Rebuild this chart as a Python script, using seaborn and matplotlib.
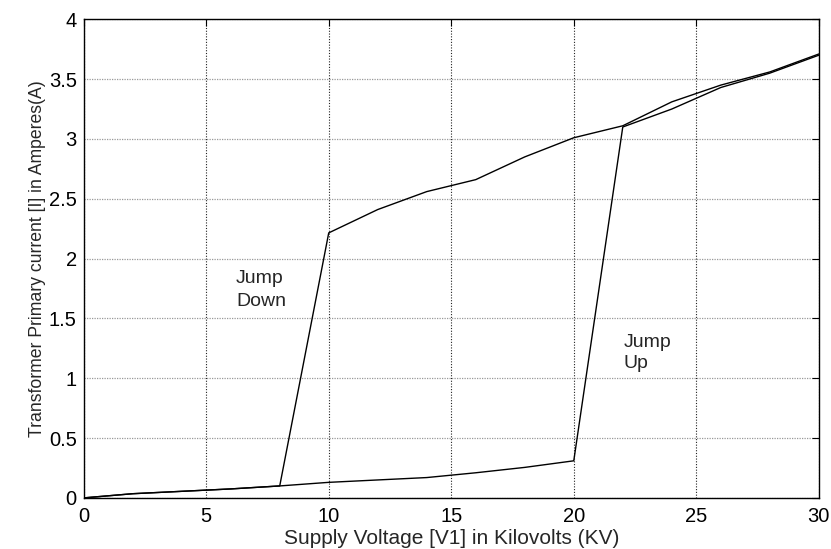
import numpy as np
import pandas as pd
import matplotlib
matplotlib.use("Agg")
import matplotlib.pyplot as plt
import seaborn as sns

# Increasing voltage (jump up)
up_v = [0, 2, 4, 6, 8, 10, 12, 14, 16, 18, 20, 22, 24, 26, 28, 30]
up_i = [0.0, 0.035, 0.055, 0.075, 0.10, 0.13, 0.15, 0.17, 0.21, 0.255, 0.31, 3.10, 3.25, 3.43, 3.55, 3.70]
# Decreasing voltage (jump down)
down_v = [30, 28, 26, 24, 22, 20, 18, 16, 14, 12, 10, 8, 6, 4, 2, 0]
down_i = [3.71, 3.56, 3.45, 3.31, 3.11, 3.01, 2.85, 2.66, 2.56, 2.41, 2.215, 0.10, 0.075, 0.055, 0.035, 0.0]

x_ticks = [0, 5, 10, 15, 20, 25, 30]
y_ticks = [0, 0.5, 1, 1.5, 2, 2.5, 3, 3.5, 4]
y_tick_labels = ["0", "0.5", "1", "1.5", "2", "2.5", "3", "3.5", "4"]

sns.set_style("white")
plt.rcParams['font.family'] = ['Liberation Sans', 'DejaVu Sans']

W, H = 831, 549
fig = plt.figure(figsize=(W / 100, H / 100), dpi=100)
left, right, top, bottom = 83.7, 818.8, 19.3, 497.9
ax = fig.add_axes([left / W, 1 - bottom / H, (right - left) / W, (bottom - top) / H])

up_df = pd.DataFrame({"V": up_v, "I": up_i})
down_df = pd.DataFrame({"V": down_v, "I": down_i})
sns.lineplot(data=up_df, x="V", y="I", sort=False, color="black", lw=1.0, ax=ax)
sns.lineplot(data=down_df, x="V", y="I", sort=False, color="black", lw=1.0, ax=ax)

ax.set_xlim(0, 30)
ax.set_ylim(0, 4)
ax.set_xticks(x_ticks)
ax.set_xticklabels([str(t) for t in x_ticks])
ax.set_yticks(y_ticks)
ax.set_yticklabels(y_tick_labels)

ax.xaxis.grid(True, linestyle=(0, (1, 1.5)), color="#222222", lw=0.8)
ax.yaxis.grid(True, linestyle=(0, (1, 1)), color="#999999", lw=0.9)
ax.set_axisbelow(True)

for s in ax.spines.values():
    s.set_visible(True)
    s.set_color("black")
    s.set_linewidth(1.0)

ax.tick_params(direction="in", length=5, width=0.8, top=True, right=True,
               labelsize=14.5, colors="black")
ax.tick_params(axis="x", pad=6.5)
ax.tick_params(axis="y", pad=5)

ax.set_xlabel("Supply Voltage [V1] in Kilovolts (KV)", fontsize=15, labelpad=2)
ax.set_ylabel("Transformer Primary current [I] in Amperes(A)", fontsize=12.7, labelpad=2)

ax.text(6.22, 1.796, "Jump", fontsize=14, va="baseline", ha="left")
ax.text(6.22, 1.604, "Down", fontsize=14, va="baseline", ha="left")
ax.text(22.05, 1.258, "Jump", fontsize=14, va="baseline", ha="left")
ax.text(22.05, 1.083, "Up", fontsize=14, va="baseline", ha="left")

fig.savefig("out.png", dpi=100, facecolor="white")
